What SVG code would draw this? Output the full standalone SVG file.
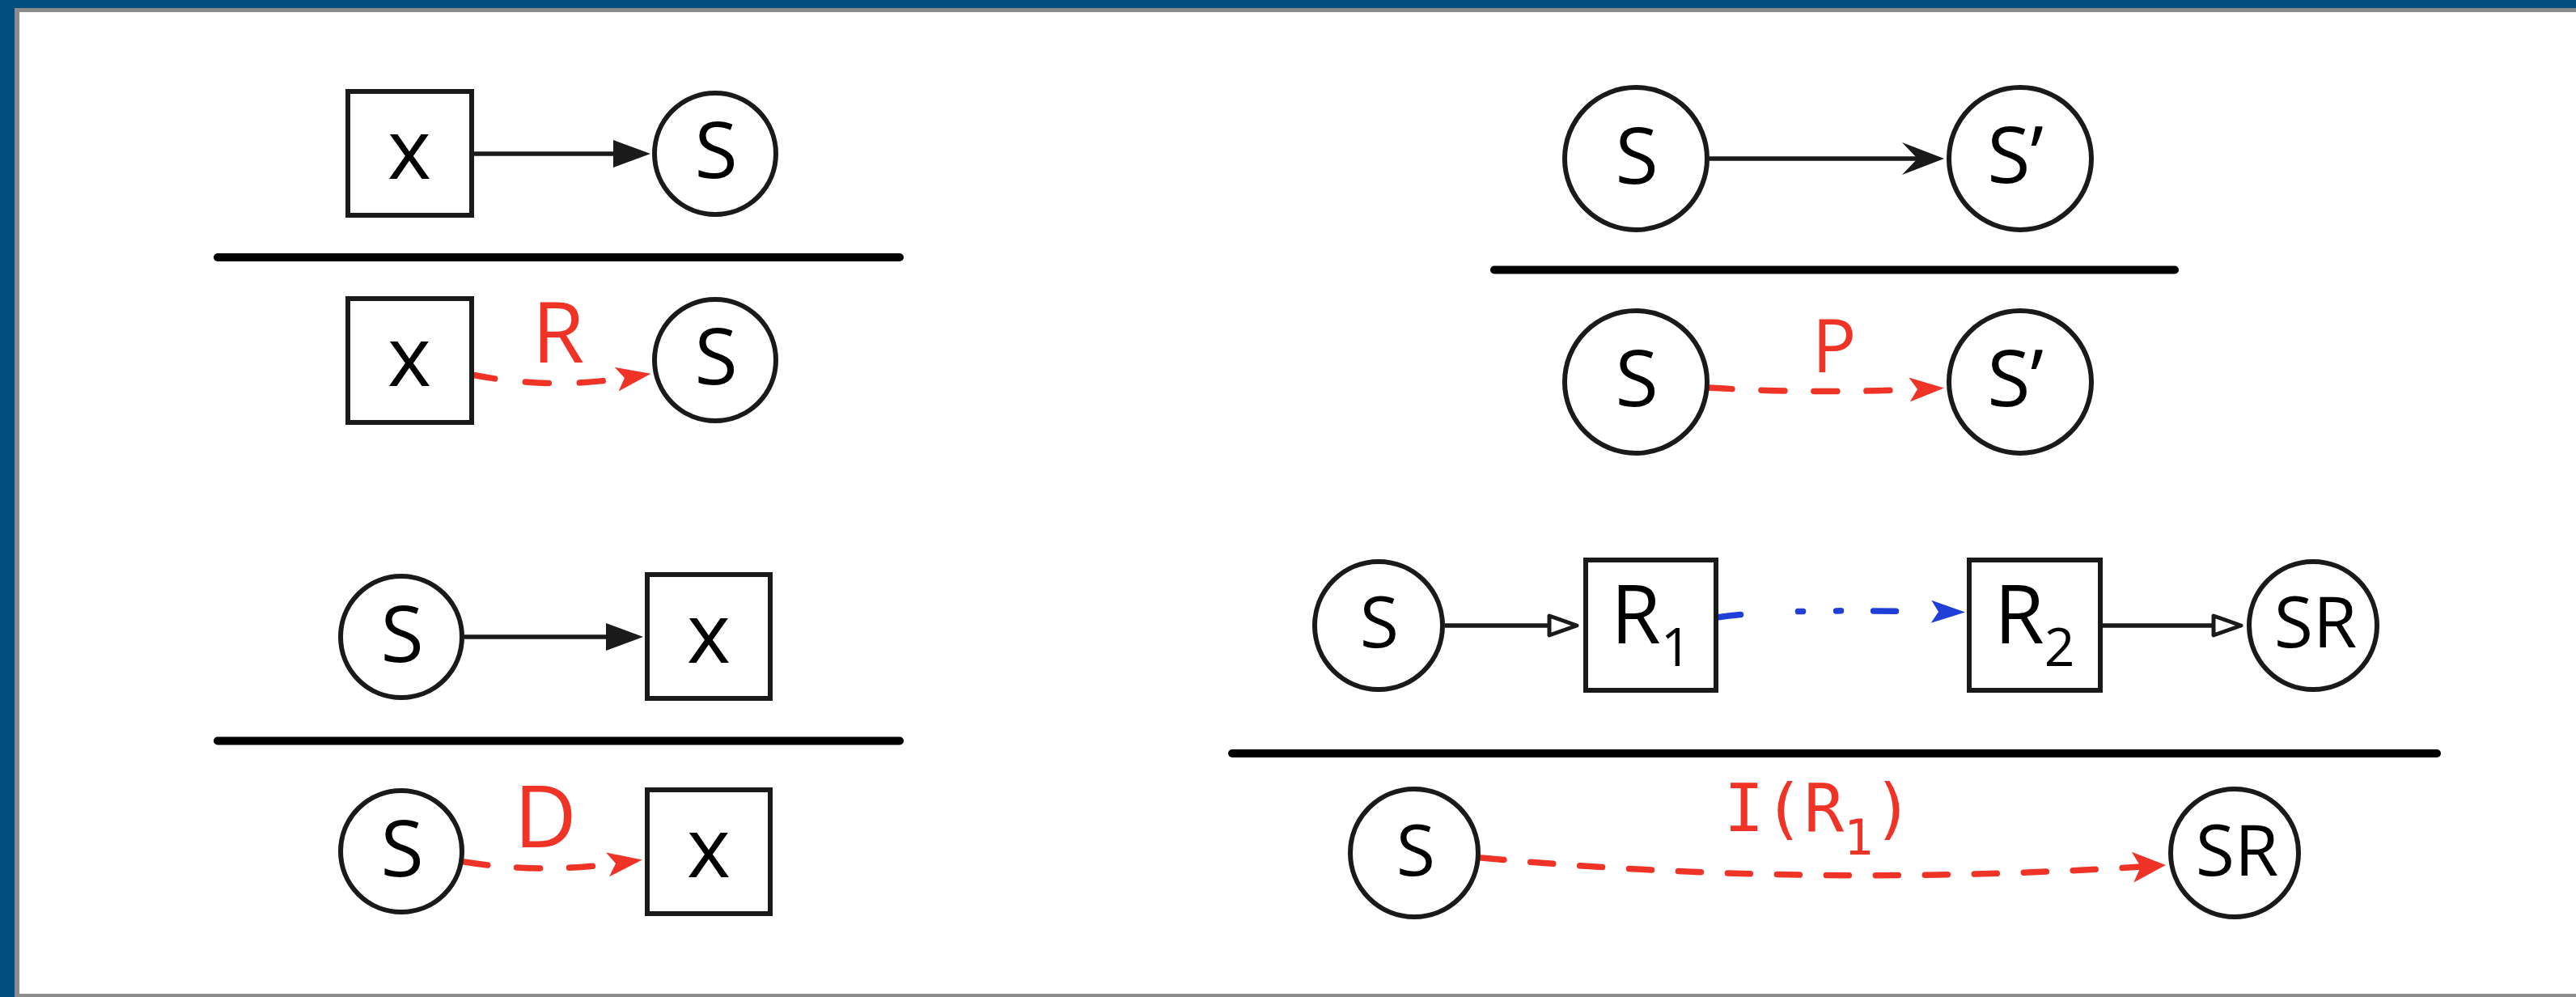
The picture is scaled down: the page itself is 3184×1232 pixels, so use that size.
<svg xmlns="http://www.w3.org/2000/svg" width="3184" height="1232" viewBox="0 0 3184 1232">
  <style>
    .node { fill: #ffffff; stroke: #1a1a1a; stroke-width: 6; }
    .lbl { font-family: "Open Sans", "Liberation Sans", sans-serif; fill: #000000; text-anchor: middle; }
    .edge-lbl { font-family: "Open Sans", "Liberation Sans", sans-serif; fill: #ef3326; text-anchor: middle; }
    .mono { font-family: "DejaVu Sans Mono", "Liberation Mono", monospace; fill: #ef3326; }
    .solid { fill: none; stroke: #1a1a1a; stroke-width: 5.5; }
    .red { fill: none; stroke: #ef3326; stroke-width: 7.5; stroke-linecap: round; }
    .blue { fill: none; stroke: #1f3fd8; stroke-width: 7.5; stroke-linecap: round; }
    .rule { stroke: #000000; stroke-width: 10; stroke-linecap: round; }
  </style>
  <defs>
    <marker id="m-tri" markerUnits="userSpaceOnUse" viewBox="-5 -25 60 50" markerWidth="60" markerHeight="50" refX="0" refY="0" orient="auto">
      <path d="M-1,-17 L45,0 L-1,17 Z" fill="#1a1a1a"/>
    </marker>
    <marker id="m-stealth" markerUnits="userSpaceOnUse" viewBox="-25 -25 65 50" markerWidth="65" markerHeight="50" refX="0" refY="0" orient="auto">
      <path d="M33,0 L-19,-20 L0,0 L-19,20 Z" fill="#1a1a1a"/>
    </marker>
    <marker id="m-hollow" markerUnits="userSpaceOnUse" viewBox="-5 -20 45 40" markerWidth="45" markerHeight="40" refX="0" refY="0" orient="auto">
      <path d="M0,-12 L34,0 L0,12 Z" fill="#ffffff" stroke="#1a1a1a" stroke-width="5" stroke-linejoin="round"/>
    </marker>
    <marker id="m-red" markerUnits="userSpaceOnUse" viewBox="-15 -20 55 40" markerWidth="55" markerHeight="40" refX="0" refY="0" orient="auto">
      <path d="M33,0 L-10,-15 L0,0 L-10,15 Z" fill="#ef3326"/>
    </marker>
    <marker id="m-red-lg" markerUnits="userSpaceOnUse" viewBox="-15 -25 50 50" markerWidth="50" markerHeight="50" refX="0" refY="0" orient="auto">
      <path d="M31,0 L-10,-19 L0,0 L-10,19 Z" fill="#ef3326"/>
    </marker>
    <marker id="m-blue" markerUnits="userSpaceOnUse" viewBox="-15 -20 55 40" markerWidth="55" markerHeight="40" refX="0" refY="0" orient="auto">
      <path d="M33,0 L-9,-14 L0,0 L-9,14 Z" fill="#1f3fd8"/>
    </marker>
  </defs>

  <!-- frame -->
  <rect x="0" y="0" width="3184" height="1232" fill="#024f80"/>
  <rect x="18" y="10" width="3166" height="1222" fill="#8c8c8c"/>
  <rect x="24" y="15" width="3160" height="1213" fill="#ffffff"/>

  <!-- inference rules -->
  <g id="rules">
    <line class="rule" x1="269" y1="318" x2="1112" y2="318"/>
    <line class="rule" x1="269" y1="915.5" x2="1112" y2="915.5"/>
    <line class="rule" x1="1847" y1="333.5" x2="2688" y2="333.5"/>
    <line class="rule" x1="1523" y1="931" x2="3012" y2="931"/>
  </g>

  <!-- connectors -->
  <g id="connectors">
    <!-- x -> S, read -->
    <line class="solid" x1="583" y1="190" x2="759" y2="190" marker-end="url(#m-tri)"/>
    <path class="red" d="M583,463 Q680,482 772,467" stroke-dasharray="29 38" marker-end="url(#m-red)"/>
    <text class="edge-lbl" x="690" y="448" font-size="105">R</text>

    <!-- S -> x, define -->
    <line class="solid" x1="574" y1="787" x2="750" y2="787" marker-end="url(#m-tri)"/>
    <path class="red" d="M574,1065 Q665,1080 761,1067" stroke-dasharray="29 36" marker-end="url(#m-red)"/>
    <text class="edge-lbl" x="674" y="1047" font-size="107">D</text>

    <!-- S -> S', propagate -->
    <path class="solid" d="M2112,196 H2370" marker-end="url(#m-stealth)"/>
    <path class="red" d="M2112,479 Q2240,487 2370,481" stroke-dasharray="29 36" marker-end="url(#m-red)"/>
    <text class="edge-lbl" x="2267" y="460" font-size="91">P</text>

    <!-- S -> R1 ... R2 -> SR, induce -->
    <line class="solid" x1="1786" y1="773" x2="1915" y2="773" marker-end="url(#m-hollow)"/>
    <path class="blue" d="M2122,763 C2170,756 2230,753 2396,756" stroke-dasharray="30 71 6 41 6 40 28 400" marker-end="url(#m-blue)"/>
    <line class="solid" x1="2597" y1="773" x2="2736" y2="773" marker-end="url(#m-hollow)"/>
    <path class="red" d="M1831,1060 Q2235,1097 2646,1071" stroke-dasharray="28 33" marker-end="url(#m-red-lg)"/>
    <text class="mono" x="2131" y="1027" font-size="82">I(R<tspan font-size="60" dy="29">1</tspan><tspan dy="-29">)</tspan></text>
  </g>

  <!-- rule 1: x -> S -->
  <g id="n-x1">
    <rect class="node" x="430" y="113" width="153" height="153"/>
    <text class="lbl" x="506" y="221" font-size="103">x</text>
  </g>
  <g id="n-s1">
    <circle class="node" cx="884" cy="190" r="75"/>
    <text class="lbl" x="885" y="220" font-size="97">S</text>
  </g>
  <g id="n-x2">
    <rect class="node" x="430" y="369" width="153" height="153"/>
    <text class="lbl" x="506" y="477" font-size="103">x</text>
  </g>
  <g id="n-s2">
    <circle class="node" cx="884" cy="445" r="75"/>
    <text class="lbl" x="885" y="475" font-size="97">S</text>
  </g>

  <!-- rule 2: S -> x -->
  <g id="n-s3">
    <circle class="node" cx="496" cy="787" r="75"/>
    <text class="lbl" x="497" y="818" font-size="97">S</text>
  </g>
  <g id="n-x3">
    <rect class="node" x="800" y="710" width="152" height="153"/>
    <text class="lbl" x="876" y="819" font-size="103">x</text>
  </g>
  <g id="n-s4">
    <circle class="node" cx="496" cy="1052" r="75"/>
    <text class="lbl" x="497" y="1083" font-size="97">S</text>
  </g>
  <g id="n-x4">
    <rect class="node" x="800" y="976" width="152" height="153"/>
    <text class="lbl" x="876" y="1084" font-size="103">x</text>
  </g>

  <!-- rule 3: S -> S' -->
  <g id="n-s5">
    <circle class="node" cx="2022" cy="196" r="88"/>
    <text class="lbl" x="2023" y="227" font-size="97">S</text>
  </g>
  <g id="n-sp1">
    <circle class="node" cx="2497" cy="196" r="88"/>
    <text class="lbl" x="2491" y="226" font-size="97">S’</text>
  </g>
  <g id="n-s6">
    <circle class="node" cx="2022" cy="472" r="88"/>
    <text class="lbl" x="2023" y="502" font-size="97">S</text>
  </g>
  <g id="n-sp2">
    <circle class="node" cx="2497" cy="472" r="88"/>
    <text class="lbl" x="2491" y="502" font-size="97">S’</text>
  </g>

  <!-- rule 4: S -> R1 ... R2 -> SR -->
  <g id="n-s7">
    <circle class="node" cx="1704" cy="773" r="79"/>
    <text class="lbl" x="1705" y="800" font-size="88">S</text>
  </g>
  <g id="n-r1">
    <rect class="node" x="1960" y="692" width="161" height="161"/>
    <text class="lbl" x="1991" y="795" font-size="100" style="text-anchor:start">R<tspan font-size="66" dy="28">1</tspan></text>
  </g>
  <g id="n-r2">
    <rect class="node" x="2434" y="692" width="162" height="161"/>
    <text class="lbl" x="2465" y="795" font-size="100" style="text-anchor:start">R<tspan font-size="66" dy="28">2</tspan></text>
  </g>
  <g id="n-sr1">
    <circle class="node" cx="2859" cy="773" r="79"/>
    <text class="lbl" x="2862" y="800" font-size="88">SR</text>
  </g>
  <g id="n-s8">
    <circle class="node" cx="1748" cy="1054" r="79"/>
    <text class="lbl" x="1750" y="1082" font-size="88">S</text>
  </g>
  <g id="n-sr2">
    <circle class="node" cx="2762" cy="1054" r="79"/>
    <text class="lbl" x="2765" y="1082" font-size="88">SR</text>
  </g>
</svg>
